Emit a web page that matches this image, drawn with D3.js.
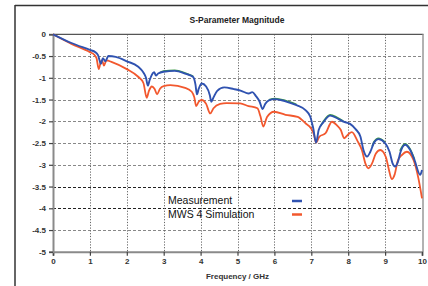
<!DOCTYPE html>
<html><head><meta charset="utf-8">
<script src="https://cdn.jsdelivr.net/npm/d3@7"></script>
<style>
html,body{margin:0;padding:0;background:#fff;}
svg{display:block;font-family:"Liberation Sans",Arial,sans-serif;}
</style></head>
<body><svg id="c" width="428" height="286"></svg>
<script>
const xTicks = [0,1,2,3,4,5,6,7,8,9,10];
const yTicks = [0,-0.5,-1,-1.5,-2,-2.5,-3,-3.5,-4,-4.5,-5];
const yTickLabels = ["0","-0.5","-1","-1.5","-2","-2.5","-3","-3.5","-4","-4.5","-5"];

const measFreq = [0,0.5,1.0,1.15,1.22,1.3,1.35,1.42,1.5,1.7,2.0,2.3,2.45,2.52,2.57,2.62,2.7,2.74,2.79,2.85,3.0,3.3,3.6,3.8,3.86,3.9,3.95,4.03,4.15,4.25,4.29,4.35,4.45,4.64,4.9,5.1,5.3,5.4,5.5,5.6,5.68,5.75,5.85,6.02,6.3,6.6,6.85,6.97,7.05,7.13,7.2,7.33,7.51,7.7,7.87,8.05,8.2,8.33,8.42,8.51,8.6,8.7,8.82,9.0,9.12,9.2,9.27,9.34,9.42,9.54,9.68,9.8,9.95,10];
const measVals = [0,-0.2,-0.36,-0.41,-0.48,-0.68,-0.55,-0.62,-0.5,-0.52,-0.62,-0.74,-0.88,-1.0,-1.18,-1.05,-0.9,-0.87,-0.95,-0.9,-0.86,-0.84,-0.91,-0.98,-1.15,-1.38,-1.25,-1.13,-1.2,-1.4,-1.55,-1.45,-1.3,-1.22,-1.26,-1.3,-1.36,-1.33,-1.42,-1.55,-1.72,-1.6,-1.52,-1.49,-1.54,-1.63,-1.75,-1.89,-2.15,-2.49,-2.2,-2.02,-1.87,-1.93,-2.01,-2.06,-2.18,-2.35,-2.68,-2.81,-2.7,-2.49,-2.41,-2.5,-2.7,-2.96,-3.04,-2.95,-2.7,-2.54,-2.66,-2.9,-3.23,-3.12];

// green trace peeks out from under the measurement in a few places (null = gap)
const greenFreq = [2.9,3.0,3.3,3.6,3.8,3.85,5.8,5.85,6.02,6.3,6.6,6.7,7.25,7.33,7.51,7.7,7.87,7.95,8.65,8.7,8.82,9.0,9.05,9.4,9.54,9.68,9.8];
const greenVals = [-0.88,-0.845,-0.825,-0.895,-0.965,null,null,-1.505,-1.475,-1.525,-1.615,null,-2.11,-2.0,-1.85,-1.91,-1.995,null,-2.58,-2.47,-2.39,-2.48,null,-2.68,-2.52,-2.64,-2.88];

const simFreq = [0,0.5,1.0,1.12,1.18,1.24,1.3,1.33,1.38,1.45,1.6,2.0,2.3,2.45,2.54,2.6,2.68,2.75,2.82,2.9,3.0,3.18,3.58,3.76,3.83,3.88,3.95,4.03,4.15,4.26,4.35,4.53,4.7,5.07,5.3,5.54,5.62,5.7,5.8,5.99,6.3,6.63,6.85,6.99,7.07,7.13,7.22,7.38,7.56,7.7,7.8,7.89,8.0,8.1,8.25,8.37,8.47,8.55,8.64,8.75,8.87,9.02,9.1,9.18,9.26,9.34,9.46,9.59,9.77,9.9,10];
const simVals = [0,-0.22,-0.41,-0.47,-0.55,-0.8,-0.62,-0.6,-0.72,-0.6,-0.64,-0.8,-0.97,-1.12,-1.46,-1.3,-1.2,-1.25,-1.38,-1.25,-1.19,-1.17,-1.23,-1.32,-1.45,-1.65,-1.55,-1.51,-1.6,-1.82,-1.7,-1.6,-1.58,-1.59,-1.65,-1.7,-1.88,-2.12,-1.9,-1.78,-1.85,-1.9,-2.05,-2.16,-2.3,-2.49,-2.35,-2.28,-2.01,-2.1,-2.2,-2.39,-2.3,-2.25,-2.45,-2.66,-2.98,-3.08,-2.98,-2.74,-2.66,-2.82,-3.1,-3.33,-3.22,-2.92,-2.77,-2.7,-2.89,-3.3,-3.77];

const seriesNames = ["Measurement","MWS 4 Simulation"];
const seriesColors = ["#2f52b0","#f2582e"];

const svg = d3.select("#c");
const L = 53, R = 422, T = 34.3, B = 251.8;
const x = d3.scaleLinear().domain([0,10]).range([L,R]);
const y = d3.scaleLinear().domain([-5,0]).range([B,T]);

// outer frame
svg.append("line").attr("x1",15).attr("x2",15).attr("y1",5).attr("y2",286).attr("stroke","#333").attr("stroke-width",1.5);
svg.append("line").attr("x1",15).attr("x2",428).attr("y1",5.5).attr("y2",5.5).attr("stroke","#333").attr("stroke-width",1.5);

// title
svg.append("text").attr("x",237).attr("y",23).attr("text-anchor","middle")
  .attr("font-size",8.5).attr("font-weight","bold").attr("fill","#222").text("S-Parameter Magnitude");

// grid
const g = svg.append("g");
g.selectAll(".hg").data(yTicks.filter(v=>v!==0 && v!==-5)).enter().append("line")
  .attr("x1",L).attr("x2",R+1).attr("y1",d=>Math.round(y(d))+0.5).attr("y2",d=>Math.round(y(d))+0.5)
  .attr("stroke",d=>(d===-3.5||d===-4)?"#222":"#888").attr("stroke-width",1)
  .attr("stroke-dasharray","3,2");
g.selectAll(".vg").data(xTicks.filter(v=>v!==0 && v!==10)).enter().append("line")
  .attr("x1",d=>Math.round(x(d))+0.5).attr("x2",d=>Math.round(x(d))+0.5).attr("y1",T).attr("y2",B)
  .attr("stroke","#666").attr("stroke-width",1).attr("stroke-dasharray","1.2,1.6");

// plot border top/right
svg.append("line").attr("x1",L).attr("x2",R+1.5).attr("y1",T).attr("y2",T).attr("stroke","#555").attr("stroke-width",1.2);
svg.append("line").attr("x1",R+1).attr("x2",R+1).attr("y1",T).attr("y2",B).attr("stroke","#999").attr("stroke-width",1.5);

// axes
const xAxis = d3.axisBottom(x).tickValues(xTicks).tickSize(4).tickFormat(d3.format("d"));
const yAxis = d3.axisLeft(y).tickValues(yTicks).tickSize(4).tickFormat((d,i)=>yTickLabels[i]);
const gx = svg.append("g").attr("transform",`translate(0,${B})`).call(xAxis);
const gy = svg.append("g").attr("transform",`translate(${L},0)`).call(yAxis);
[gx,gy].forEach(a=>{
  a.select(".domain").attr("stroke","#8a8a8a").attr("stroke-width",2);
  a.selectAll(".tick line").attr("stroke","#444").attr("stroke-width",1.2);
  a.selectAll("text").attr("font-size",8).attr("font-weight","bold").attr("fill","#333")
   .attr("font-family","'Liberation Sans',Arial,sans-serif");
});
gy.selectAll("text").attr("x",-7);
gx.selectAll("text").attr("y",7);

// x label
svg.append("text").attr("x",237.5).attr("y",279).attr("text-anchor","middle")
  .attr("font-size",8).attr("font-weight","bold").attr("fill","#333").text("Frequency / GHz");

// lines
const line = d3.line().defined(d=>d[1]!==null).x(d=>x(d[0])).y(d=>y(d[1])).curve(d3.curveMonotoneX);
const zip = (a,b)=>a.map((f,i)=>[f,b[i]]);
svg.append("path").datum(zip(simFreq,simVals)).attr("d",line).attr("fill","none")
  .attr("stroke",seriesColors[1]).attr("stroke-width",1.8);
svg.append("path").datum(zip(greenFreq,greenVals)).attr("d",line).attr("fill","none")
  .attr("stroke","#3c9a46").attr("stroke-width",1.6);
svg.append("path").datum(zip(measFreq,measVals)).attr("d",line).attr("fill","none")
  .attr("stroke",seriesColors[0]).attr("stroke-width",1.9);

// legend
const leg = svg.append("g");
const legY = [204, 217.5];
seriesNames.forEach((n,i)=>{
  leg.append("text").attr("x",168).attr("y",legY[i]).attr("font-size",10.5).attr("fill","#111").text(n);
  leg.append("line").attr("x1",292).attr("x2",302).attr("y1",legY[i]-3).attr("y2",legY[i]-3)
    .attr("stroke",seriesColors[i]).attr("stroke-width",2.5);
});
</script></body></html>
